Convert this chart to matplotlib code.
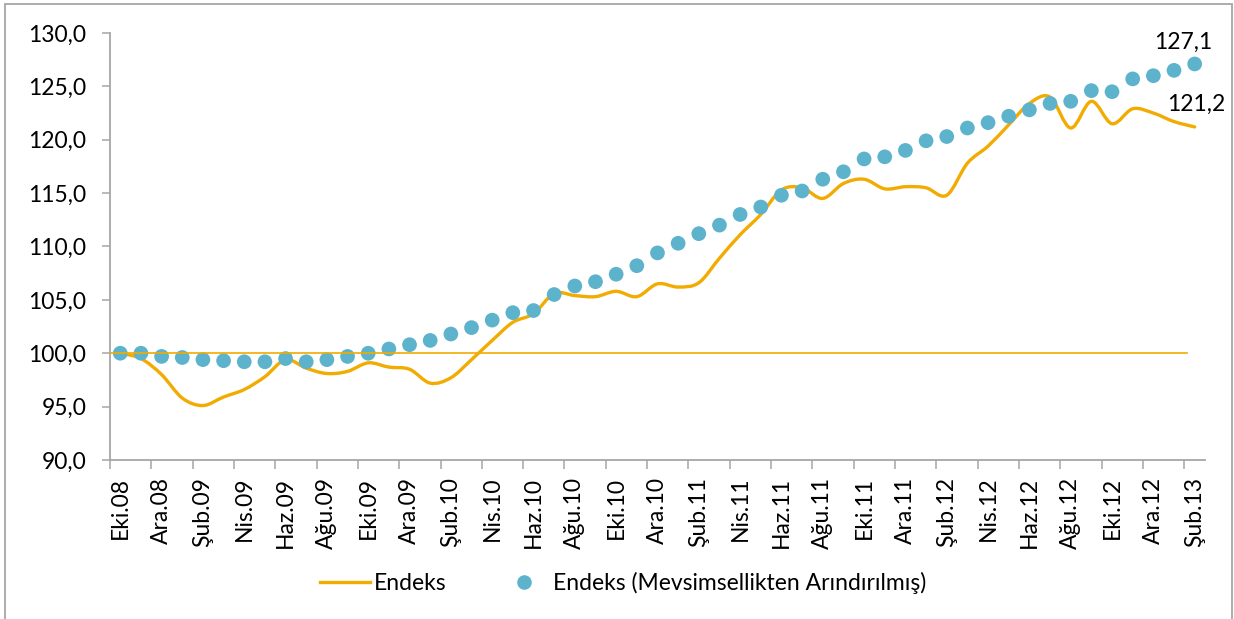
import matplotlib
matplotlib.use("Agg")
import matplotlib.pyplot as plt
from matplotlib.path import Path
from matplotlib.patches import PathPatch, Rectangle
from matplotlib.lines import Line2D
import numpy as np

plt.rcParams['font.family'] = ['Lato', 'DejaVu Sans']

# aylik endeks (Eki.08 - Sub.13)
endeks = [100.0, 99.5, 98.0, 95.8, 95.1, 95.9, 96.6, 97.8, 99.4, 98.6,
          98.1, 98.3, 99.1, 98.7, 98.5, 97.2, 97.7, 99.4, 101.2, 102.9,
          103.7, 105.6, 105.4, 105.3, 105.8, 105.3, 106.5, 106.2, 106.6, 108.9,
          111.1, 113.0, 115.3, 115.5, 114.5, 115.9, 116.3, 115.4, 115.6, 115.5,
          114.8, 117.8, 119.4, 121.4, 123.4, 124.0, 121.1, 123.6, 121.5, 122.9,
          122.5, 121.7, 121.2]

endeks_ma = [100.0, 100.0, 99.7, 99.6, 99.4, 99.3, 99.2, 99.2, 99.5, 99.2,
             99.4, 99.7, 100.0, 100.4, 100.8, 101.2, 101.8, 102.4, 103.1, 103.8,
             104.0, 105.5, 106.3, 106.7, 107.4, 108.2, 109.4, 110.3, 111.2, 112.0,
             113.0, 113.7, 114.8, 115.2, 116.3, 117.0, 118.2, 118.4, 119.0, 119.9,
             120.3, 121.1, 121.6, 122.2, 122.8, 123.4, 123.6, 124.6, 124.5, 125.7,
             126.0, 126.5, 127.1]

etiketler = ['Eki.08', 'Ara.08', 'Şub.09', 'Nis.09', 'Haz.09', 'Ağu.09',
             'Eki.09', 'Ara.09', 'Şub.10', 'Nis.10', 'Haz.10', 'Ağu.10',
             'Eki.10', 'Ara.10', 'Şub.11', 'Nis.11', 'Haz.11', 'Ağu.11',
             'Eki.11', 'Ara.11', 'Şub.12', 'Nis.12', 'Haz.12', 'Ağu.12',
             'Eki.12', 'Ara.12', 'Şub.13']

turuncu = '#F2AB00'
mavi = '#5EB3CC'
gri = '#A6A6A6'
fs = 16.5

x = np.arange(len(endeks))

fig = plt.figure(figsize=(12.34, 6.19), dpi=100)
ax = fig.add_axes([0.0891, 0.2569, 0.8874, 0.6898])


# Excel tarzi yumusatilmis cizgi (bezier)
def yumusak_yol(xs, ys):
    pts = np.column_stack([xs, ys])
    verts = [pts[0]]
    codes = [Path.MOVETO]
    n = len(pts)
    for i in range(n - 1):
        p0 = pts[i - 1] if i > 0 else pts[i]
        p1 = pts[i]
        p2 = pts[i + 1]
        p3 = pts[i + 2] if i + 2 < n else pts[i + 1]
        c1 = p1 + (p2 - p0) / 6.0
        c2 = p2 - (p3 - p1) / 6.0
        verts += [c1, c2, p2]
        codes += [Path.CURVE4] * 3
    return Path(verts, codes)


ax.add_patch(PathPatch(yumusak_yol(x, endeks), facecolor='none',
                       edgecolor=turuncu, lw=2.4, zorder=2, capstyle='round'))
ax.scatter(x, endeks_ma, s=112, color=mavi, edgecolors='none', zorder=3)
ax.axhline(100, xmin=0, xmax=0.984, color=turuncu, lw=1.2, zorder=4)

ax.set_xlim(-0.5, len(x) - 0.5)
ax.set_ylim(90, 130)
ax.set_yticks(np.arange(90, 131, 5))
ax.set_yticklabels([f"{v:.1f}".replace('.', ',') for v in np.arange(90, 131, 5)])

ax.set_xticks(x[::2])
ax.set_xticklabels(etiketler, rotation=90)
ax.set_xticks(np.arange(-0.5, len(x) - 1, 2), minor=True)

ax.tick_params(axis='x', which='major', length=0, pad=12, labelsize=fs)
ax.tick_params(axis='x', which='minor', length=6.5, width=1.1, color=gri)
ax.tick_params(axis='y', length=6, width=1.1, color=gri, pad=11, labelsize=fs)

for s in ['top', 'right']:
    ax.spines[s].set_visible(False)
for s in ['left', 'bottom']:
    ax.spines[s].set_color(gri)
    ax.spines[s].set_linewidth(1.3)

# son deger etiketleri
ax.annotate(f"{endeks_ma[-1]:.1f}".replace('.', ','), (x[-1], endeks_ma[-1]),
            xytext=(-8, 8), textcoords='offset points', ha='center',
            va='bottom', fontsize=fs)
ax.annotate(f"{endeks[-1]:.1f}".replace('.', ','), (x[-1], endeks[-1]),
            xytext=(1, 9), textcoords='offset points', ha='center',
            va='bottom', fontsize=fs)

tutamaclar = [Line2D([0], [0], color=turuncu, lw=2.4),
              Line2D([0], [0], marker='o', color='none', markerfacecolor=mavi,
                     markeredgecolor='none', markersize=10.5)]
fig.legend(tutamaclar, ['Endeks', 'Endeks (Mevsimsellikten Arındırılmış)'],
           loc='center', bbox_to_anchor=(0.505, 1 - 583 / 619), ncol=2,
           frameon=False, fontsize=fs, handlelength=2.2, handletextpad=0.15,
           columnspacing=2.3)

# grafik cercevesi
fig.add_artist(Rectangle((5 / 1234, -0.1), 1227 / 1234, 1.1 - 4 / 619,
                         transform=fig.transFigure, fill=False,
                         edgecolor=gri, lw=1.3))

fig.savefig('out.png', dpi=100)
